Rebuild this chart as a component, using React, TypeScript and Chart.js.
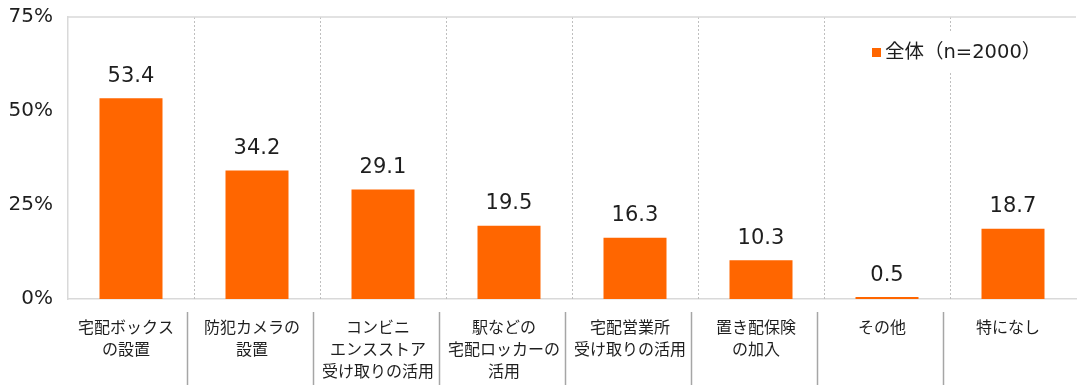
import React, { useEffect, useRef } from "react";
import { Chart, registerables } from "chart.js";
Chart.register(...registerables);

const categories: string[][] = [
  ["宅配ボックス", "の設置"],
  ["防犯カメラの", "設置"],
  ["コンビニ", "エンスストア", "受け取りの活用"],
  ["駅などの", "宅配ロッカーの", "活用"],
  ["宅配営業所", "受け取りの活用"],
  ["置き配保険", "の加入"],
  ["その他"],
  ["特になし"],
];
const values: number[] = [53.4, 34.2, 29.1, 19.5, 16.3, 10.3, 0.5, 18.7];
const seriesLabel = "全体（n=2000）";
const yMin = 0;
const yMax = 75;
const yStep = 25;

const FONT = '"Noto Sans CJK JP", "Noto Sans", sans-serif';
const NUMFONT = '"DejaVu Sans", "Noto Sans CJK JP", sans-serif';
const ORANGE = "#FF6600";
const TEXT = "#1e1e1e";

const decorPlugin = {
  id: "decor",
  beforeDatasetsDraw(chart: any) {
    const { ctx, chartArea } = chart;
    const xs = chart.scales.x;
    ctx.save();
    ctx.strokeStyle = "#bfbfbf";
    ctx.lineWidth = 1;
    ctx.setLineDash([2, 2]);
    for (let i = 0; i < values.length - 1; i++) {
      const b = Math.round((xs.getPixelForValue(i) + xs.getPixelForValue(i + 1)) / 2) + 0.5;
      ctx.beginPath();
      ctx.moveTo(b, chartArea.top);
      ctx.lineTo(b, chartArea.bottom);
      ctx.stroke();
    }
    ctx.setLineDash([]);
    ctx.strokeStyle = "#d9d9d9";
    ctx.lineWidth = 1.5;
    ctx.beginPath();
    ctx.moveTo(chartArea.left, chartArea.top);
    ctx.lineTo(chartArea.right, chartArea.top);
    ctx.stroke();
    ctx.restore();
  },
  afterDatasetsDraw(chart: any) {
    const { ctx, chartArea } = chart;
    const xs = chart.scales.x;
    const meta = chart.getDatasetMeta(0);
    ctx.save();
    ctx.fillStyle = TEXT;
    ctx.font = `21px ${NUMFONT}`;
    ctx.textAlign = "center";
    ctx.textBaseline = "middle";
    meta.data.forEach((bar: any, i: number) => {
      ctx.fillText(values[i].toFixed(1), bar.x, bar.y - 22);
    });
    ctx.strokeStyle = "#a6a6a6";
    ctx.lineWidth = 1.5;
    for (let i = 0; i < values.length - 1; i++) {
      const b = (xs.getPixelForValue(i) + xs.getPixelForValue(i + 1)) / 2 - 6.5;
      ctx.beginPath();
      ctx.moveTo(b, chartArea.bottom + 13);
      ctx.lineTo(b, chart.height);
      ctx.stroke();
    }
    const lx = 872;
    const ly = 52;
    ctx.fillStyle = "#ffffff";
    ctx.fillRect(lx - 4, ly - 19, 172, 38);
    ctx.fillStyle = ORANGE;
    ctx.fillRect(lx, ly - 4, 9, 9);
    ctx.fillStyle = TEXT;
    ctx.font = `19.5px ${NUMFONT}`;
    ctx.textAlign = "left";
    ctx.textBaseline = "middle";
    ctx.fillText(seriesLabel, lx + 13, ly + 1);
    ctx.restore();
  },
};

export default function App() {
  const ref = useRef<HTMLCanvasElement | null>(null);
  useEffect(() => {
    document.body.style.margin = "0";
    const canvas = ref.current;
    if (!canvas) return;
    const chart = new Chart(canvas, {
      type: "bar",
      data: {
        labels: categories,
        datasets: [
          {
            label: seriesLabel,
            data: values,
            backgroundColor: ORANGE,
            borderWidth: 0,
            barPercentage: 0.5,
            categoryPercentage: 1,
          },
        ],
      },
      options: {
        animation: false,
        responsive: false,
        maintainAspectRatio: false,
        devicePixelRatio: 1,
        layout: { padding: { top: 17, right: 1, left: 0, bottom: 0 } },
        plugins: {
          legend: { display: false },
          tooltip: { enabled: false },
        },
        scales: {
          x: {
            offset: true,
            grid: { display: false, drawTicks: false },
            border: { display: true, color: "#d9d9d9", width: 1.5 },
            ticks: {
              color: TEXT,
              font: { family: FONT, size: 16, lineHeight: 1.375 },
              padding: 17,
              labelOffset: -5,
              maxRotation: 0,
              autoSkip: false,
            },
            afterFit: (scale: any) => {
              scale.height = 86;
            },
          },
          y: {
            min: yMin,
            max: yMax,
            grid: { display: false, drawTicks: false },
            border: { display: true, color: "#d9d9d9", width: 1.5 },
            ticks: {
              stepSize: yStep,
              color: TEXT,
              font: { family: NUMFONT, size: 20, lineHeight: 0.2 },
              padding: 15,
              callback: (v: any) => `${v}%`,
            },
            afterFit: (scale: any) => {
              scale.width = 68;
            },
          },
        },
      },
      plugins: [decorPlugin],
    });
    return () => chart.destroy();
  }, []);
  return (
    <div style={{ width: 1077, height: 385 }}>
      <canvas ref={ref} width={1077} height={385} style={{ display: "block" }} />
    </div>
  );
}
